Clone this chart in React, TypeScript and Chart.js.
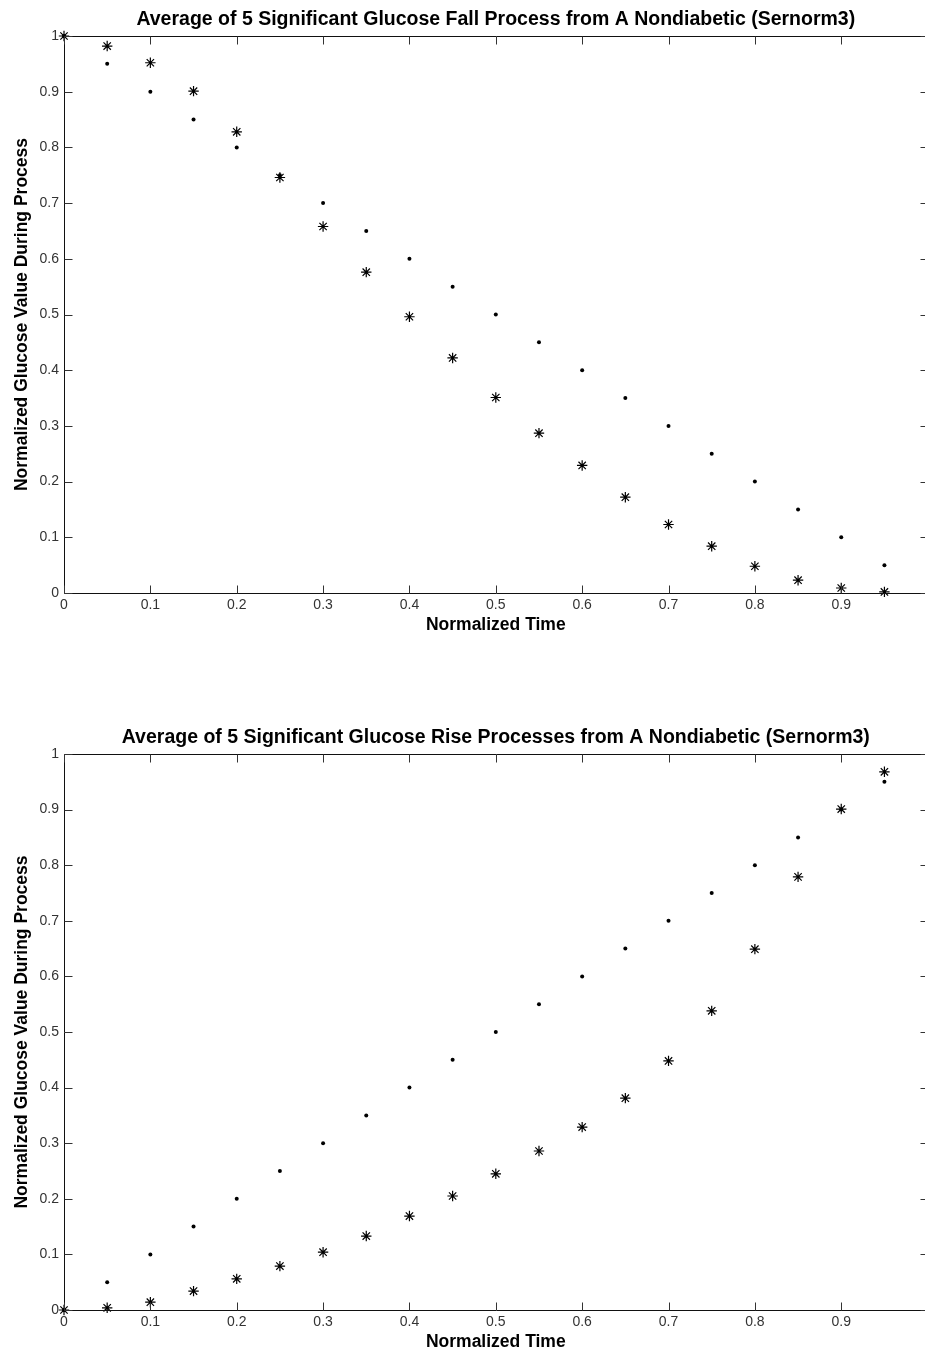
import { useEffect, useRef } from "react";
import { Chart, registerables } from "chart.js";

Chart.register(...registerables);

// Normalized time samples shared by both panels
const TIME = [0, 0.05, 0.1, 0.15, 0.2, 0.25, 0.3, 0.35, 0.4, 0.45, 0.5, 0.55, 0.6, 0.65, 0.7, 0.75, 0.8, 0.85, 0.9, 0.95];

// Fall process: straight reference line (dots) and averaged measurements (stars)
const FALL_LINEAR = [1, 0.95, 0.9, 0.85, 0.8, 0.75, 0.7, 0.65, 0.6, 0.55, 0.5, 0.45, 0.4, 0.35, 0.3, 0.25, 0.2, 0.15, 0.1, 0.05];
const FALL_AVERAGE = [1, 0.982, 0.952, 0.901, 0.828, 0.746, 0.658, 0.576, 0.496, 0.422, 0.351, 0.287, 0.229, 0.172, 0.123, 0.084, 0.048, 0.023, 0.009, 0.002];

// Rise process: straight reference line (dots) and averaged measurements (stars)
const RISE_LINEAR = [0, 0.05, 0.1, 0.15, 0.2, 0.25, 0.3, 0.35, 0.4, 0.45, 0.5, 0.55, 0.6, 0.65, 0.7, 0.75, 0.8, 0.85, 0.9, 0.95];
const RISE_AVERAGE = [0, 0.004, 0.014, 0.034, 0.056, 0.079, 0.104, 0.133, 0.169, 0.205, 0.245, 0.286, 0.329, 0.381, 0.448, 0.538, 0.649, 0.779, 0.901, 0.968];

const FALL_TITLE = "Average of 5 Significant Glucose Fall Process from A Nondiabetic (Sernorm3)";
const RISE_TITLE = "Average of 5 Significant Glucose Rise Processes from A Nondiabetic (Sernorm3)";
const X_LABEL = "Normalized Time";
const Y_LABEL = "Normalized Glucose Value During Process";

const AXIS_MIN = 0;
const AXIS_MAX = 1;
const TICK_STEP = 0.1;

const FONT = "'Liberation Sans', Arial, Helvetica, sans-serif";
const CANVAS_W = 934;
const TICK_LEN = 8;
const X_AXIS_H = 44;
const Y_AXIS_W = 64;
const TITLE_SIZE = 19.5;
const TITLE_LH = TITLE_SIZE * 1.2;
const TITLE_GAP = 5;

// Box around the plot area with inward-pointing ticks on all four sides
const boxPlugin = {
  id: "boxAxes",
  afterDatasetsDraw(chart: any) {
    const { ctx, chartArea } = chart;
    const xs = chart.scales.x;
    const ys = chart.scales.y;
    const l = Math.round(chartArea.left) + 0.5;
    const r = Math.round(chartArea.right) + 0.5;
    const t = Math.round(chartArea.top) + 0.5;
    const b = Math.round(chartArea.bottom) + 0.5;
    ctx.save();
    ctx.strokeStyle = "#111";
    ctx.lineWidth = 1;
    ctx.beginPath();
    ctx.rect(l, t, r - l, b - t);
    ctx.stroke();
    ctx.strokeStyle = "#333";
    ctx.beginPath();
    xs.ticks.forEach((tk: any) => {
      const px = Math.round(xs.getPixelForValue(tk.value)) + 0.5;
      ctx.moveTo(px, b);
      ctx.lineTo(px, b - TICK_LEN);
      ctx.moveTo(px, t);
      ctx.lineTo(px, t + TICK_LEN);
    });
    ys.ticks.forEach((tk: any) => {
      const py = Math.round(ys.getPixelForValue(tk.value)) + 0.5;
      ctx.moveTo(l, py);
      ctx.lineTo(l + TICK_LEN, py);
      ctx.moveTo(r, py);
      ctx.lineTo(r - TICK_LEN, py);
    });
    ctx.stroke();
    ctx.restore();
  },
};

const fmt = (v: number) => String(Number(v.toFixed(1)));

type PanelProps = {
  title: string;
  linear: number[];
  average: number[];
  height: number;
  plotTop: number;
  plotBottom: number;
};

function Panel({ title, linear, average, height, plotTop, plotBottom }: PanelProps) {
  const ref = useRef<HTMLCanvasElement | null>(null);

  useEffect(() => {
    if (!ref.current) return;
    const chart = new Chart(ref.current, {
      type: "scatter",
      data: {
        datasets: [
          {
            data: TIME.map((t, i) => ({ x: t, y: linear[i] })),
            pointStyle: "circle",
            pointRadius: 2,
            pointBorderWidth: 0,
            backgroundColor: "#000",
            borderColor: "#000",
            clip: false as any,
          },
          {
            data: TIME.map((t, i) => ({ x: t, y: average[i] })),
            pointStyle: "star",
            pointRadius: 5.2,
            pointBorderWidth: 1.2,
            backgroundColor: "#000",
            borderColor: "#000",
            clip: false as any,
          },
        ],
      },
      options: {
        animation: false,
        responsive: false,
        devicePixelRatio: 1,
        events: [],
        layout: {
          padding: {
            top: plotTop - TITLE_LH - TITLE_GAP,
            bottom: height - plotBottom - X_AXIS_H,
            left: 0,
            right: 1,
          },
        },
        plugins: {
          legend: { display: false },
          tooltip: { enabled: false },
          title: {
            display: true,
            fullSize: false,
            text: title,
            color: "#000",
            font: { family: FONT, size: TITLE_SIZE, weight: "bold", lineHeight: 1.2 },
            padding: { top: 0, bottom: TITLE_GAP },
          },
        },
        scales: {
          x: {
            type: "linear",
            min: AXIS_MIN,
            max: AXIS_MAX,
            grid: { display: false, drawTicks: false },
            border: { display: false },
            ticks: {
              stepSize: TICK_STEP,
              padding: 4,
              maxRotation: 0,
              color: "#333",
              font: { family: FONT, size: 14 },
              callback: (v: any) => (Number(v) >= AXIS_MAX ? "" : fmt(Number(v))),
            },
            title: {
              display: true,
              text: X_LABEL,
              color: "#000",
              font: { family: FONT, size: 17.5, weight: "bold", lineHeight: 1.2 },
              padding: { top: 0, bottom: 1.5 },
            },
            afterFit: (s: any) => {
              s.height = X_AXIS_H;
              s.paddingLeft = 0;
              s.paddingRight = 0;
            },
          },
          y: {
            type: "linear",
            min: AXIS_MIN,
            max: AXIS_MAX,
            grid: { display: false, drawTicks: false },
            border: { display: false },
            ticks: {
              stepSize: TICK_STEP,
              padding: 5,
              color: "#333",
              font: { family: FONT, size: 14 },
              callback: (v: any) => fmt(Number(v)),
            },
            title: {
              display: true,
              text: Y_LABEL,
              color: "#000",
              font: { family: FONT, size: 17.5, weight: "bold", lineHeight: 1.2 },
              padding: { top: 12, bottom: 0 },
            },
            afterFit: (s: any) => {
              s.width = Y_AXIS_W;
              s.paddingTop = 0;
              s.paddingBottom = 0;
            },
          },
        },
      },
      plugins: [boxPlugin],
    } as any);
    return () => chart.destroy();
  }, [title, linear, average, height, plotTop, plotBottom]);

  return (
    <canvas
      ref={ref}
      width={CANVAS_W}
      height={height}
      style={{ display: "block", width: CANVAS_W, height }}
    />
  );
}

export default function App() {
  return (
    <div
      style={{
        position: "absolute",
        left: 0,
        top: 0,
        width: 925,
        height: 1354,
        overflow: "hidden",
        background: "#fff",
      }}
    >
      <Panel title={FALL_TITLE} linear={FALL_LINEAR} average={FALL_AVERAGE} height={677} plotTop={36} plotBottom={593} />
      <Panel title={RISE_TITLE} linear={RISE_LINEAR} average={RISE_AVERAGE} height={677} plotTop={77} plotBottom={633} />
    </div>
  );
}
